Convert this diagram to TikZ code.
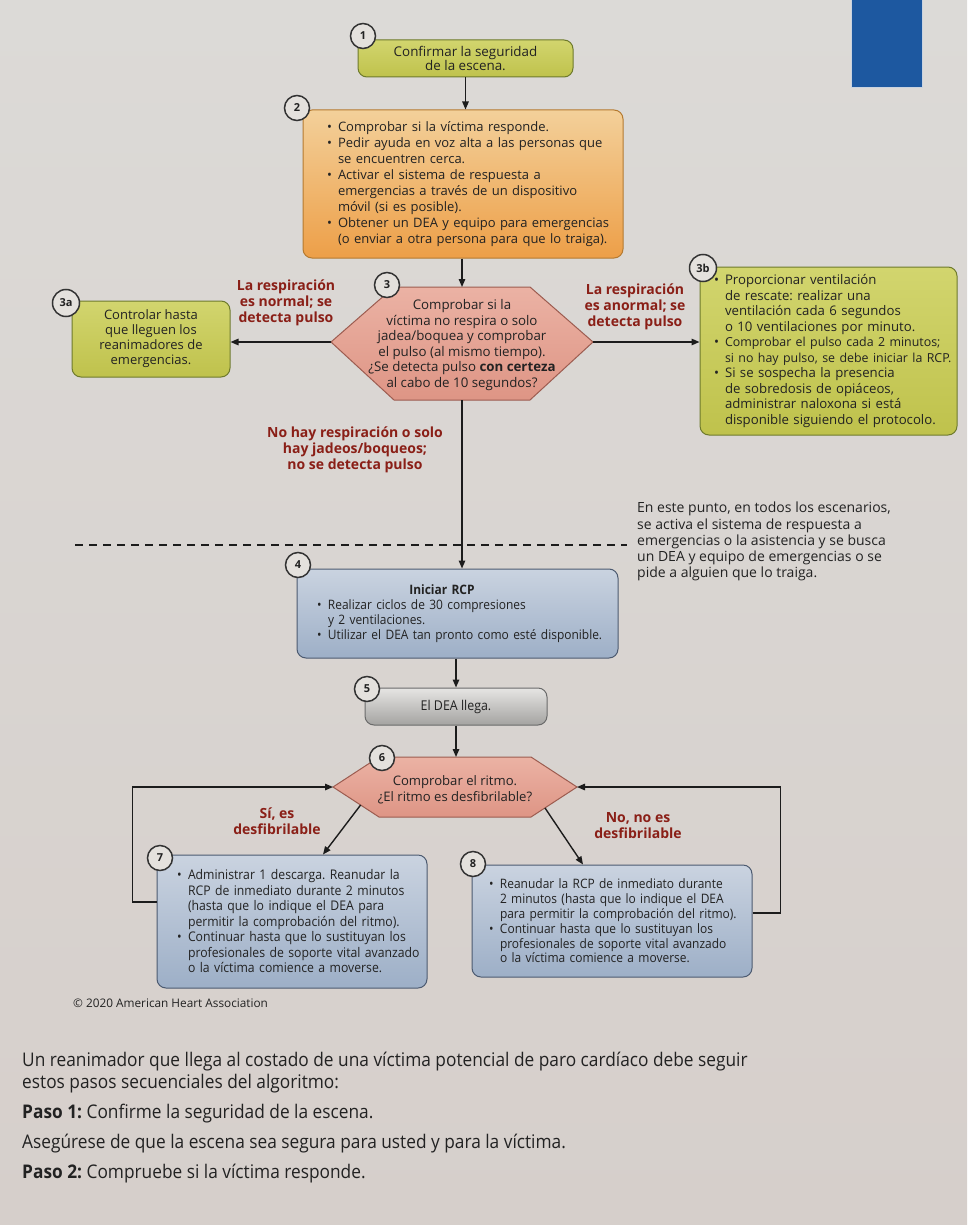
\documentclass[tikz,border=0pt]{standalone}
\usepackage{fontspec}
\setmainfont{Open Sans}
\newfontfamily\condf[FakeStretch=0.92]{Open Sans}
\usetikzlibrary{arrows.meta}
\definecolor{bgtop}{HTML}{DCDAD7}
\definecolor{bgbot}{HTML}{D6CFCB}
\definecolor{gA}{HTML}{D2D56E}
\definecolor{gB}{HTML}{BFC24C}
\definecolor{gD}{HTML}{6E7A2C}
\definecolor{oA}{HTML}{F3D09A}
\definecolor{oB}{HTML}{ED9F48}
\definecolor{oD}{HTML}{B57A30}
\definecolor{hA}{HTML}{EBB2A4}
\definecolor{hB}{HTML}{DE9585}
\definecolor{hD}{HTML}{9C5C50}
\definecolor{bA}{HTML}{CAD3E0}
\definecolor{bB}{HTML}{9DAFC7}
\definecolor{bD}{HTML}{4C5A70}
\definecolor{sA}{HTML}{E6E5E3}
\definecolor{sB}{HTML}{A4A3A1}
\definecolor{sD}{HTML}{6A6A6A}
\definecolor{numf}{HTML}{E4E1DD}
\definecolor{numd}{HTML}{333333}
\definecolor{lblred}{HTML}{8A1F17}
\definecolor{arrc}{HTML}{1C1C1C}
\definecolor{txtc}{HTML}{222222}
\definecolor{blueR}{HTML}{1D58A0}
\definecolor{blueRb}{HTML}{C9D3E0}
\newcommand{\bu}[1]{\mbox{\makebox[11pt][l]{•}#1}}
\newcommand{\co}[1]{\mbox{\hspace{11pt}#1}}
\frenchspacing
\tikzset{
  arr/.style={-{Triangle[length=8pt,width=6.5pt]}, line width=1.4pt, draw=arrc},
  boxbase/.style={rounded corners=9pt, line width=1pt, inner ysep=0pt, text=txtc,
    font=\fontsize{13}{16}\selectfont},
  greenb/.style={boxbase, top color=gA, bottom color=gB, draw=gD},
  orangeb/.style={boxbase, top color=oA, bottom color=oB, draw=oD},
  blueb/.style={boxbase, top color=bA, bottom color=bB, draw=bD},
  grayb/.style={boxbase, top color=sA, bottom color=sB, draw=sD},
  hexs/.style={top color=hA, bottom color=hB, draw=hD, line width=1pt},
  hext/.style={align=center, inner sep=0pt, text=txtc},
  numc/.style={circle, draw=numd, line width=1.5pt, fill=numf, minimum size=25pt,
    inner sep=0pt, text=txtc, font=\fontsize{11}{11}\selectfont\bfseries},
  redlbl/.style={text=lblred, font=\fontsize{14}{16}\selectfont\bfseries, align=center, inner sep=0pt},
  paraline/.style={anchor=base west, inner sep=0pt, text=txtc, font=\condf\fontsize{18.8}{22}\selectfont},
}
\begin{document}
\begin{tikzpicture}[x=1pt,y=-1pt]
\useasboundingbox (0,0) rectangle (967,1225);
\shade[top color=bgtop,bottom color=bgbot] (0,0) rectangle (967,1225);
\draw[fill=blueR, draw=blueRb, line width=1pt] (851,-5) rectangle (922,88);

% boxes
\node[greenb, minimum width=215pt, minimum height=37pt, align=center,
  font=\fontsize{13.4}{14}\selectfont] (b1) at (465.5,58.5) {Confirmar la seguridad\\de la escena.};

\node[orangeb, minimum width=320pt, minimum height=148pt, inner xsep=24pt, text width=272pt, align=left] (b2) at (463,184)
 {\bu{Comprobar si la víctima responde.}\\
  \bu{Pedir ayuda en voz alta a las personas que}\\
  \co{se encuentren cerca.}\\
  \bu{Activar el sistema de respuesta a}\\
  \co{emergencias a través de un dispositivo}\\
  \co{móvil (si es posible).}\\
  \bu{Obtener un DEA y equipo para emergencias}\\
  \co{(o enviar a otra persona para que lo traiga).}};

\node[greenb, minimum width=158pt, minimum height=76pt, align=center,
  font=\fontsize{13}{15}\selectfont] (b3a) at (151,339)
 {Controlar hasta\\que lleguen los\\reanimadores de\\emergencias.};

\node[greenb, minimum width=257pt, minimum height=168pt, inner xsep=14pt, text width=229pt, align=left,
  font=\fontsize{13.2}{15.5}\selectfont] (b3b) at (828.5,351)
 {\bu{Proporcionar ventilación}\\
  \co{de rescate: realizar una}\\
  \co{ventilación cada 6 segundos}\\
  \co{o 10 ventilaciones por minuto.}\\
  \bu{{\fontsize{12.4}{15.5}\selectfont Comprobar el pulso cada 2 minutos;}}\\
  \co{{\fontsize{12.4}{15.5}\selectfont si no hay pulso, se debe iniciar la RCP.}}\\
  \bu{Si se sospecha la presencia}\\
  \co{de sobredosis de opiáceos,}\\
  \co{administrar naloxona si está}\\
  \co{disponible siguiendo el protocolo.}};

\node[blueb, minimum width=321pt, minimum height=89pt, inner xsep=20pt, text width=281pt, align=left,
  font=\condf\fontsize{13}{15}\selectfont] (b4) at (457.5,613.5)
 {\makebox[250pt][c]{\bfseries Iniciar RCP}\\
  \bu{Realizar ciclos de 30 compresiones}\\
  \co{y 2 ventilaciones.}\\
  \bu{Utilizar el DEA tan pronto como esté disponible.}};

\node[grayb, minimum width=182pt, minimum height=37pt, align=center,
  font=\condf\fontsize{13.5}{15}\selectfont] (b5) at (456,706.5) {El DEA llega.};

\node[blueb, minimum width=270pt, minimum height=133pt, inner xsep=20pt, text width=230pt, align=left,
  font=\condf\fontsize{13.3}{15.5}\selectfont] (b7) at (292,921.5)
 {\bu{Administrar 1 descarga. Reanudar la}\\
  \co{RCP de inmediato durante 2 minutos}\\
  \co{(hasta que lo indique el DEA para}\\
  \co{permitir la comprobación del ritmo).}\\
  \bu{Continuar hasta que lo sustituyan los}\\
  \co{profesionales de soporte vital avanzado}\\
  \co{o la víctima comience a moverse.}};

\node[blueb, minimum width=280pt, minimum height=112pt, inner xsep=17pt, text width=246pt, align=left,
  font=\condf\fontsize{13}{14.8}\selectfont] (b8) at (612,921)
 {\bu{Reanudar la RCP de inmediato durante}\\
  \co{2 minutos (hasta que lo indique el DEA}\\
  \co{para permitir la comprobación del ritmo).}\\
  \bu{Continuar hasta que lo sustituyan los}\\
  \co{profesionales de soporte vital avanzado}\\
  \co{o la víctima comience a moverse.}};

% hexagon 3
\coordinate (h3w) at (331,342);
\coordinate (h3e) at (593,342);
\coordinate (h3n) at (462,287);
\coordinate (h3s) at (462,400);
\path[hexs] (h3w) -- (394,287) -- (530,287) -- (h3e) -- (530,400) -- (394,400) -- cycle;
\node[hext, font=\fontsize{13.3}{15.6}\selectfont] (h3) at (462,345)
 {Comprobar si la\\víctima no respira o solo\\jadea/boquea y comprobar\\el pulso (al mismo tiempo).\\¿Se detecta pulso \textbf{con certeza}\\al cabo de 10 segundos?};

% hexagon 6
\coordinate (h6w) at (333,787);
\coordinate (h6e) at (577,787);
\coordinate (h6n) at (455,757);
\coordinate (h6a) at (360.6,805);
\coordinate (h6b) at (545,808);
\path[hexs] (h6w) -- (379,757) -- (531,757) -- (h6e) -- (531,817) -- (379,817) -- cycle;
\node[hext, font=\fontsize{13.1}{16}\selectfont] (h6) at (455,790)
 {Comprobar el ritmo.\\¿El ritmo es desfibrilable?};

% connectors
\draw[arr] (b1.south) -- (b1.south |- b2.north);
\draw[arr] (h3n |- b2.south) -- (h3n);
\draw[arr] (h3w) -- (b3a.east |- h3w);
\draw[arr] (h3e) -- (b3b.west |- h3e);
\draw[arr] (h3s) -- (h3s |- b4.north);
\draw[arr] (b5.north |- b4.south) -- (b5.north);
\draw[arr] (b5.south) -- (b5.south |- h6n);
\draw[arr] (h6a) -- ([xshift=31pt]b7.north);
\draw[arr] (h6b) -- ([xshift=-29pt]b8.north);
\draw[arr] ([yshift=19.5pt]b7.west) -- ++(-24,0) |- (h6w);
\draw[arr] ([yshift=8pt]b8.east) -- ++(28,0) |- (h6e);

% dashed separator
\draw[line width=1.3pt, draw=arrc, dash pattern=on 8pt off 6pt] (75,545) -- (627,545);

% number circles
\node[numc] (c1) at (363,36) {1};
\node[numc] (c2) at (297,108) {2};
\node[numc] (c3) at (387,285) {3};
\node[numc, minimum size=27pt] (c3a) at (66,303) {3a};
\node[numc, minimum size=27pt] (c3b) at (703,268) {3b};
\node[numc] (c4) at (298,565) {4};
\node[numc] (c5) at (367,689) {5};
\node[numc] (c6) at (382,758) {6};
\node[numc] (c7) at (160,858) {7};
\node[numc] (c8) at (473,864) {8};

% labels
\node[redlbl] (l3a) at (286,303) {La respiración\\es normal; se\\detecta pulso};
\node[redlbl] (l3b) at (635,307) {La respiración\\es anormal; se\\detecta pulso};
\node[redlbl] (l4) at (355,450) {No hay respiración o solo\\hay jadeos/boqueos;\\no se detecta pulso};
\node[redlbl] (l7) at (277,821) {Sí, es\\desfibrilable};
\node[redlbl] (l8) at (638,826) {No, no es\\desfibrilable};

% note
\node[anchor=north west, inner sep=0pt, align=left, text=txtc,
  font=\fontsize{14}{16.2}\selectfont] (note) at (637,502)
 {En este punto, en todos los escenarios,\\se activa el sistema de respuesta a\\emergencias o la asistencia y se busca\\un DEA y equipo de emergencias o se\\pide a alguien que lo traiga.};

% copyright
\node[anchor=west, inner sep=0pt, text=txtc, font=\fontsize{11.8}{13}\selectfont] (copy) at (73,1003)
 {© 2020 American Heart Association};

% bottom paragraph
\node[paraline] (p1) at (22,1066) {Un reanimador que llega al costado de una víctima potencial de paro cardíaco debe seguir};
\node[paraline] (p2) at (22,1088) {estos pasos secuenciales del algoritmo:};
\node[paraline] (p3) at (22,1118) {\textbf{Paso 1:} Confirme la seguridad de la escena.};
\node[paraline] (p4) at (22,1148) {Asegúrese de que la escena sea segura para usted y para la víctima.};
\node[paraline] (p5) at (22,1178) {\textbf{Paso 2:} Compruebe si la víctima responde.};
\end{tikzpicture}
\end{document}
